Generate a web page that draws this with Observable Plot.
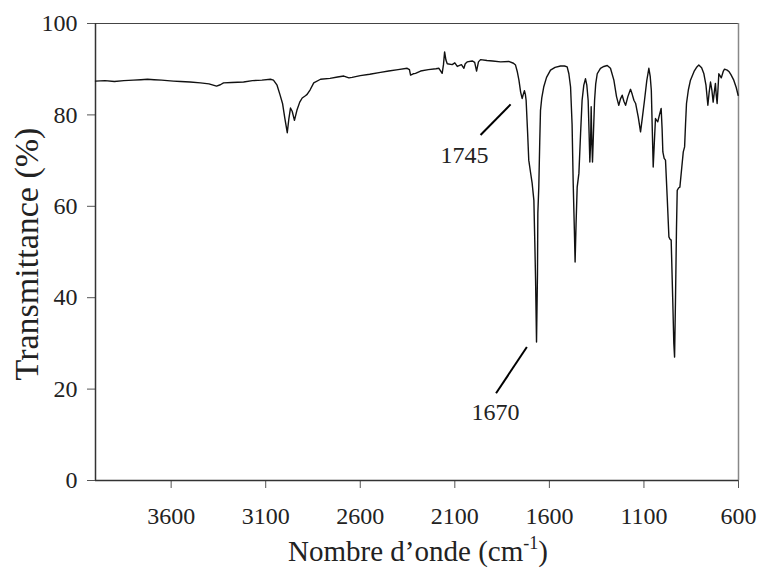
<!DOCTYPE html>
<html><head><meta charset="utf-8">
<script src="https://cdn.jsdelivr.net/npm/d3@7"></script>
<script src="https://cdn.jsdelivr.net/npm/@observablehq/plot@0.6"></script>
<style>body{margin:0;background:#fff} svg{font-family:"Liberation Serif","Times New Roman",serif}</style>
</head><body><div id="chart"></div>
<script>
const wavenumbers = [4000,3950,3900,3850,3800,3760,3725,3690,3650,3620,3588,3550,3500,3445,3400,3360,3340,3323,3280,3217,3170,3120,3075,3059,3040,3025,3011,2999,2986,2978,2969,2960,2948,2935,2920,2907,2890,2881,2865,2846,2810,2760,2720,2687,2660,2643,2600,2550,2493,2450,2400,2352,2340,2334,2320,2308,2281,2240,2200,2184,2167,2160,2154,2147,2140,2114,2100,2087,2065,2052,2045,2035,2008,1995,1985,1975,1964,1930,1900,1858,1815,1790,1779,1770,1761,1752,1744,1738,1732,1727,1723,1715,1709,1700,1691,1682,1677,1673,1668,1663,1661,1656,1651,1647,1640,1630,1615,1594,1570,1541,1520,1506,1497,1488,1480,1474,1468,1464,1459,1453,1444,1435,1427,1418,1409,1402,1395,1390,1386,1382,1379,1376,1372,1367,1361,1355,1347,1330,1312,1294,1277,1259,1245,1233,1224,1215,1206,1197,1185,1171,1162,1153,1144,1130,1118,1108,1097,1085,1074,1067,1061,1056,1051,1045,1039,1033,1027,1018,1009,1004,1000,993,986,977,968,962,956,948,942,938,933,928,924,917,910,900,892,885,880,875,865,854,835,820,810,795,783,772,762,755,748,741,734,728,722,718,713,708,704,698,691,680,674,660,651,640,625,612,602];
const transmittance = [87.4,87.5,87.3,87.5,87.6,87.7,87.8,87.7,87.6,87.5,87.4,87.3,87.2,87.0,86.8,86.3,86.6,87.0,87.1,87.2,87.5,87.6,87.8,87.6,86.5,84.5,82.5,79.3,76.1,79.0,81.5,80.8,78.8,81.0,82.8,83.7,84.2,84.5,85.5,87.0,87.8,88.0,88.3,88.5,88.1,88.2,88.6,88.9,89.3,89.6,89.9,90.2,89.9,88.7,89.0,89.1,89.6,89.9,90.1,90.2,89.1,91.0,93.8,92.0,91.2,91.0,91.4,90.6,91.0,90.2,91.2,91.6,91.8,91.5,89.6,91.6,92.1,91.9,91.8,91.6,91.7,91.3,90.9,89.5,87.6,85.0,83.6,84.5,85.3,84.5,83.2,76.0,70.1,67.5,65.0,61.3,52.0,43.8,30.3,45.0,58.5,64.2,74.0,81.0,83.8,86.1,88.2,89.8,90.4,90.7,90.7,90.5,89.0,86.1,78.0,65.0,55.0,47.8,56.0,64.2,67.2,76.0,83.2,86.5,87.9,86.5,83.2,76.0,69.7,74.0,81.8,75.0,69.7,76.0,83.2,86.8,89.0,90.2,90.6,90.8,90.2,87.6,84.0,82.1,83.5,84.3,83.0,82.1,84.0,85.6,84.5,83.2,82.5,79.5,76.3,79.5,83.2,87.5,90.2,88.5,85.4,77.0,68.6,74.0,79.2,78.8,78.5,80.0,81.4,77.0,71.9,70.5,70.1,62.0,53.3,52.8,52.6,40.0,30.0,27.0,40.0,55.0,63.5,64.0,64.2,68.5,71.9,73.0,78.0,82.5,85.5,87.6,89.5,90.5,90.9,90.3,89.0,86.5,82.1,85.0,87.2,85.5,82.8,85.0,86.9,84.5,82.5,86.0,89.0,88.6,88.1,89.6,90.0,89.8,89.5,88.8,87.6,86.0,84.3];
const xTicks = [3600,3100,2600,2100,1600,1100,600];
const yTicks = [0,20,40,60,80,100];
const xDomain = [4000,600];
const yDomain = [0,100];
const annotationLabels = ["1745","1670"];
const annotationFromX = [1805,1719];
const annotationFromY = [82.3,29.2];
const annotationToX = [1964,1882];
const annotationToY = [75.6,19.1];
const annotationTextX = [2049,1885];
const annotationTextY = [71.2,15.0];
const yTitle = "Transmittance (%)";
const xTitleMain = "Nombre d\u2019onde (cm";
const xTitleSup = "-1";
const xTitleEnd = ")";

const spectrum = wavenumbers.map((w,i)=>({w, t: transmittance[i]}));
const notes = annotationLabels.map((label,i)=>({label, x1:annotationFromX[i], y1:annotationFromY[i], x2:annotationToX[i], y2:annotationToY[i], tx:annotationTextX[i], ty:annotationTextY[i]}));

const chart = Plot.plot({
  width: 758, height: 573,
  marginLeft: 95, marginRight: 20, marginTop: 23, marginBottom: 93,
  style: {fontFamily: "'Liberation Serif', 'Times New Roman', serif", fontSize: "24px", background: "#fff", color: "#000"},
  x: {domain: xDomain, label: null},
  y: {domain: yDomain, label: null},
  marks: [
    Plot.ruleY([yDomain[1]], {stroke: "#444", strokeWidth: 1}),
    Plot.ruleX([xDomain[1]], {stroke: "#888", strokeWidth: 1.5}),
    Plot.axisX({ticks: xTicks, tickSize: 8, tickPadding: 18, tickFormat: d => String(d), stroke: "#555", fill: "#222"}),
    Plot.axisY({ticks: yTicks, tickSize: 8, stroke: "#555", fill: "none"}),
    Plot.axisY({ticks: yTicks, tickSize: 0, tickPadding: 0, dx: -18, stroke: "none", tickFormat: d => String(d), fill: "#222"}),
    Plot.ruleY([yDomain[0]], {stroke: "#333", strokeWidth: 1.5}),
    Plot.ruleX([xDomain[0]], {stroke: "#333", strokeWidth: 1.5}),
    Plot.line(spectrum, {x: "w", y: "t", stroke: "#111", strokeWidth: 1.4}),
    Plot.link(notes, {x1: "x1", y1: "y1", x2: "x2", y2: "y2", stroke: "#000", strokeWidth: 2}),
    Plot.text(notes, {x: "tx", y: "ty", text: "label", fontSize: 24, fill: "#222"})
  ]
});
document.getElementById("chart").appendChild(chart);

const svg = d3.select(chart);
svg.append("text")
  .attr("transform", "translate(38,254) rotate(-90)")
  .attr("text-anchor", "middle")
  .attr("font-size", 34)
  .attr("fill", "#222")
  .text(yTitle);
const xt = svg.append("text")
  .attr("x", 418).attr("y", 561)
  .attr("text-anchor", "middle")
  .attr("font-size", 29)
  .attr("fill", "#222");
xt.append("tspan").text(xTitleMain);
xt.append("tspan").attr("font-size", 18).attr("dy", -12).text(xTitleSup);
xt.append("tspan").attr("dy", 12).text(xTitleEnd);
</script>
</body></html>
